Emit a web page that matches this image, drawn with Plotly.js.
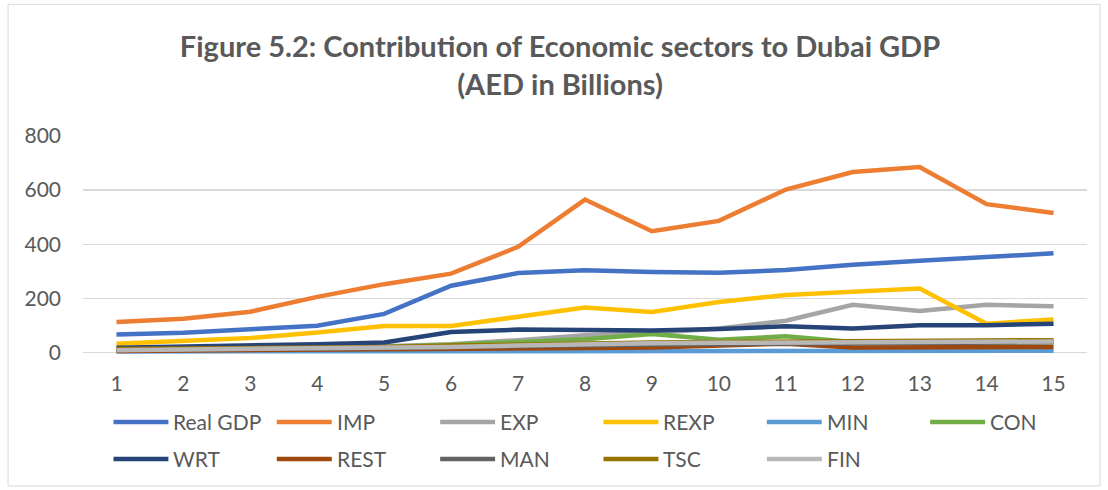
<!DOCTYPE html>
<html>
<head>
<meta charset="utf-8">
<script src="https://cdn.plot.ly/plotly-3.0.1.min.js"></script>
<style>html,body{margin:0;padding:0;background:#fff;}#chart{width:1108px;height:490px;}</style>
</head>
<body>
<div id="chart"></div>
<script>
// ---- data (AED billions) ----
const periods = [1,2,3,4,5,6,7,8,9,10,11,12,13,14,15];
const tickLabels = ["1","2","3","4","5","6","7","8","9","10","11","12","13","14","15"];
const seriesNames = ["Real GDP","IMP","EXP","REXP","MIN","CON","WRT","REST","MAN","TSC","FIN"];
const realGDP = [66,72,85,98,142,246,293,303,297,294,304,324,339,352,366];
const imp     = [112,124,150,205,252,291,390,565,448,486,602,667,685,548,515];
const exp     = [8,10,13,17,22,30,45,63,71,88,117,176,153,176,170];
const rexp    = [32,43,53,73,97,97,132,166,149,186,212,222,236,106,121];
const min     = [3,3,3,3,3,4,4,4,5,5,5,6,6,6,6];
const con     = [8,10,12,15,20,28,38,48,68,46,59,38,37,37,38];
const wrt     = [17,20,24,30,36,75,84,84,81,86,96,88,100,100,106];
const rest    = [5,6,7,8,10,12,14,16,18,25,32,18,18,19,20];
const man     = [10,11,12,14,16,20,24,27,29,31,33,34,35,36,37];
const tsc     = [12,13,15,17,20,25,30,34,36,38,40,42,43,44,45];
const fin     = [8,10,12,14,16,20,25,30,33,35,36,37,38,39,40];
const seriesValues = [realGDP, imp, exp, rexp, min, con, wrt, rest, man, tsc, fin];
const colors = ["#4472C4","#ED7D31","#A5A5A5","#FFC000","#5B9BD5","#70AD47","#264478","#9E480E","#636363","#997300","#B7B7B7"];

// ---- layout geometry ----
const W = 1108, H = 490;
const mL = 82.5, mR = 20.5, mT = 136, mB = 135.3;
const pw = W - mL - mR, ph = H - mT - mB;
const px2x = p => (p - mL) / pw;
const py2y = p => (H - mB - p) / ph;
const FONT = "Lato, 'Open Sans', sans-serif";
const TXT = "#595959";

const traces = seriesNames.map((n, i) => ({
  type: "scatter", mode: "lines", name: n,
  x: periods, y: seriesValues[i],
  line: {color: colors[i], width: 4.5},
  showlegend: false, hoverinfo: "skip"
}));

// manual legend (Excel style: long line symbols)
const shapes = [];
const annotations = [];
const colStart = 113, colStep = 163.5, rowY = [421.5, 458.5];
seriesNames.forEach((n, i) => {
  const r = Math.floor(i / 6), c = i % 6;
  const x0 = colStart + c * colStep, y = rowY[r];
  shapes.push({type: "line", xref: "paper", yref: "paper",
    x0: px2x(x0), x1: px2x(x0 + 55), y0: py2y(y), y1: py2y(y),
    line: {color: colors[i], width: 4.5}});
  annotations.push({xref: "paper", yref: "paper", x: px2x(x0 + 58), y: py2y(y),
    xanchor: "left", yanchor: "middle", showarrow: false, text: n,
    font: {family: FONT, size: 21, color: TXT}});
});
// chart-area border
shapes.push({type: "rect", xref: "paper", yref: "paper", layer: "below",
  x0: px2x(7.5), x1: px2x(1100.5), y0: py2y(485.5), y1: py2y(4.5),
  line: {color: "#D9D9D9", width: 1}, fillcolor: "rgba(0,0,0,0)"});

const layout = {
  width: W, height: H,
  margin: {l: mL, r: mR, t: mT, b: mB, pad: 0},
  paper_bgcolor: "#fff", plot_bgcolor: "#fff",
  title: {text: "<b>Figure 5.2: Contribution of Economic sectors to Dubai GDP<br>(AED in Billions)</b>",
    x: 560 / W, xref: "container", xanchor: "center", y: 1 - 57 / H, yref: "container", yanchor: "middle",
    font: {family: FONT, size: 29, color: TXT}},
  xaxis: {range: [0.5, 15.5], tickmode: "array", tickvals: periods, ticktext: tickLabels,
    showgrid: false, zeroline: false, showline: false, ticks: "",
    ticklabelstandoff: 14,
    tickfont: {family: FONT, size: 21, color: TXT}, fixedrange: true},
  yaxis: {range: [-10, 800], tickmode: "array", tickvals: [0,200,400,600,800],
    ticktext: ["0","200","400","600","800"],
    showgrid: true, gridcolor: "#D9D9D9", gridwidth: 1.3, zeroline: false, showline: false, ticks: "",
    ticklabelstandoff: 21,
    tickfont: {family: FONT, size: 21, color: TXT}, fixedrange: true},
  shapes: shapes, annotations: annotations,
  showlegend: false
};

Plotly.newPlot("chart", traces, layout, {displayModeBar: false, staticPlot: true});
</script>
</body>
</html>
